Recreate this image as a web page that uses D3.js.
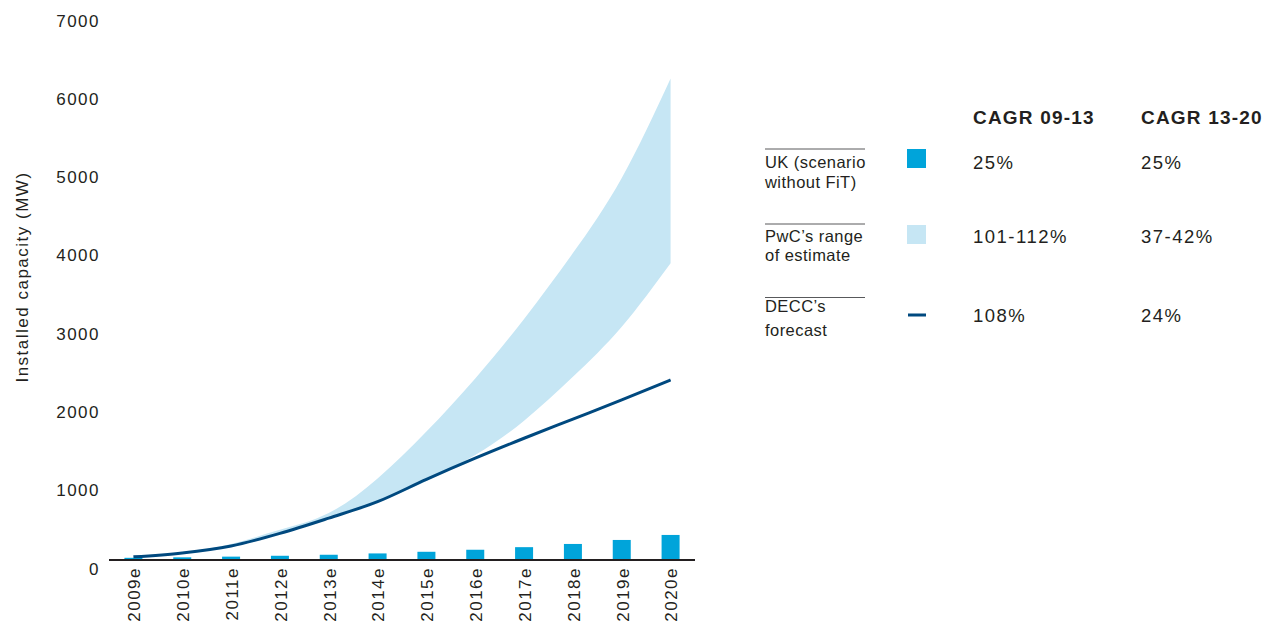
<!DOCTYPE html>
<html>
<head>
<meta charset="utf-8">
<script src="https://cdn.jsdelivr.net/npm/d3@7"></script>
<style>
  html, body { margin: 0; padding: 0; background: #fff; }
  svg { display: block; font-family: "Liberation Sans", Arial, Helvetica, sans-serif; }
</style>
</head>
<body>
<svg id="chart" width="1267" height="624"></svg>
<script>
// ---- data ----
const years = ["2009e","2010e","2011e","2012e","2013e","2014e","2015e","2016e","2017e","2018e","2019e","2020e"];
const ukNoFit = [28, 34, 43, 54, 67, 84, 105, 131, 164, 205, 256, 320];
const deccForecast = [40, 90, 180, 340, 535, 745, 1030, 1300, 1555, 1800, 2045, 2300];
const pwcLow = [40, 90, 180, 340, 535, 740, 1010, 1340, 1780, 2340, 2980, 3790];
const pwcHigh = [45, 100, 205, 385, 600, 1040, 1640, 2320, 3080, 3920, 4880, 6150];
const yTicks = [0, 1000, 2000, 3000, 4000, 5000, 6000, 7000];
const legendLabels = [["UK (scenario", "without FiT)"], ["PwC\u2019s range", "of estimate"], ["DECC\u2019s", "forecast"]];
const cagrHeaders = ["CAGR 09-13", "CAGR 13-20"];
const cagr0913 = ["25%", "101-112%", "108%"];
const cagr1320 = ["25%", "37-42%", "24%"];

// ---- styles ----
const C_BAR = "#00a4da", C_BAND = "#c6e6f4", C_LINE = "#00497f", C_TEXT = "#231f20";

const svg = d3.select("#chart");
const x = d3.scaleBand().domain(years).range([109, 695]);
const y = d3.scaleLinear().domain([0, 7000]).range([560, 12]);
const cx = d => x(d) + x.bandwidth() / 2;

// band
const area = d3.area()
  .x((d, i) => cx(years[i]))
  .y0((d, i) => y(pwcLow[i]))
  .y1((d, i) => y(pwcHigh[i]))
  .curve(d3.curveNatural);
svg.append("path").datum(years).attr("d", area).attr("fill", C_BAND);

// bars
const barW = 18;
svg.append("g").selectAll("rect").data(years).join("rect")
  .attr("x", d => cx(d) - barW / 2)
  .attr("width", barW)
  .attr("y", (d, i) => y(ukNoFit[i]))
  .attr("height", (d, i) => y(0) - y(ukNoFit[i]))
  .attr("fill", C_BAR);

// line
const line = d3.line()
  .x((d, i) => cx(years[i]))
  .y((d, i) => y(deccForecast[i]))
  .curve(d3.curveMonotoneX);
svg.append("path").datum(years).attr("d", line)
  .attr("fill", "none").attr("stroke", C_LINE).attr("stroke-width", 3);

// x axis
const xAxis = svg.append("g").attr("transform", `translate(0,${y(0)})`)
  .call(d3.axisBottom(x).tickSize(0).tickPadding(0));
xAxis.select(".domain").attr("stroke", C_TEXT).attr("stroke-width", 2).attr("d", "M109,0H695");
xAxis.selectAll("text")
  .attr("transform", "rotate(-90)")
  .attr("text-anchor", "end")
  .attr("x", -7).attr("y", 0).attr("dy", "0.4em").attr("dx", 0)
  .style("font-size", "17px").style("letter-spacing", "1.5px")
  .attr("fill", C_TEXT);

// y axis (labels only)
const yAxis = svg.append("g").attr("transform", "translate(100,0)")
  .call(d3.axisLeft(y).tickValues(yTicks).tickFormat(d3.format("d")).tickSize(0).tickPadding(0));
yAxis.select(".domain").remove();
yAxis.selectAll("text")
  .attr("x", 0).attr("dy", "0.83em")
  .style("font-size", "17px").style("letter-spacing", "1.5px")
  .attr("fill", C_TEXT);

// y axis title
svg.append("text")
  .attr("transform", "translate(28,277) rotate(-90)")
  .attr("text-anchor", "middle")
  .style("font-size", "17px").style("letter-spacing", "1.5px")
  .attr("fill", C_TEXT)
  .text("Installed capacity (MW)");

// legend headers
const headerX = [973, 1141];
svg.append("g").selectAll("text").data(cagrHeaders).join("text")
  .attr("x", (d, i) => headerX[i]).attr("y", 124)
  .style("font-size", "19px").style("font-weight", "bold").style("letter-spacing", "1.2px")
  .attr("fill", C_TEXT).text(d => d);

// legend rows
const ruleY = [149, 224, 297.5];
const line1Y = [168, 242, 312];
const line2Y = [188, 261, 336];
const valY = [169, 243, 322];
const lg = svg.append("g");
legendLabels.forEach((lab, i) => {
  lg.append("line").attr("x1", 765).attr("x2", 865).attr("y1", ruleY[i]).attr("y2", ruleY[i])
    .attr("stroke", "#58595b").attr("stroke-width", 1);
  lg.append("text").attr("x", 765).attr("y", line1Y[i])
    .style("font-size", "16.5px").style("letter-spacing", "0.45px").attr("fill", C_TEXT).text(lab[0]);
  lg.append("text").attr("x", 765).attr("y", line2Y[i])
    .style("font-size", "16.5px").style("letter-spacing", "0.45px").attr("fill", C_TEXT).text(lab[1]);
  lg.append("text").attr("x", headerX[0]).attr("y", valY[i])
    .style("font-size", "18.5px").style("letter-spacing", "1.5px").attr("fill", C_TEXT).text(cagr0913[i]);
  lg.append("text").attr("x", headerX[1]).attr("y", valY[i])
    .style("font-size", "18.5px").style("letter-spacing", "1.5px").attr("fill", C_TEXT).text(cagr1320[i]);
});
lg.append("rect").attr("x", 907).attr("y", 149).attr("width", 19).attr("height", 19).attr("fill", C_BAR);
lg.append("rect").attr("x", 907).attr("y", 225).attr("width", 19).attr("height", 19).attr("fill", C_BAND);
lg.append("line").attr("x1", 908).attr("x2", 926).attr("y1", 315).attr("y2", 315)
  .attr("stroke", C_LINE).attr("stroke-width", 3);
</script>
</body>
</html>
